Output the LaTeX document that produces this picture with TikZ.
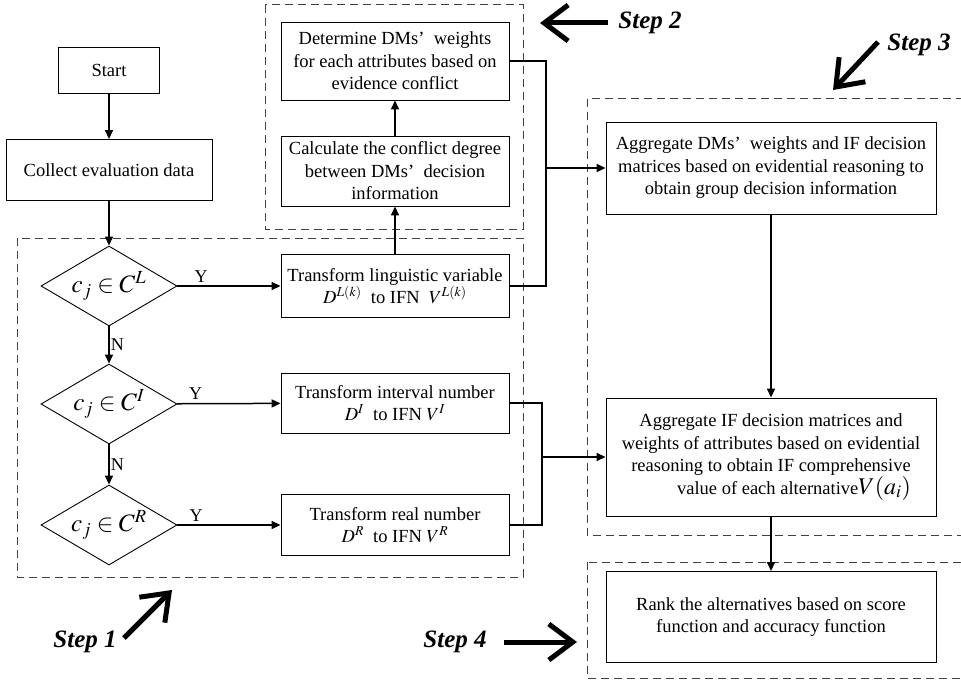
\documentclass[tikz,border=0pt]{standalone}
\usepackage{mathptmx}
\usepackage{fontspec}
\setmainfont{Liberation Serif}
\usetikzlibrary{arrows.meta,shapes.geometric}
\begin{document}
\begin{tikzpicture}[x=1pt,y=-1pt,
  box/.style={draw,line width=0.9pt,align=center,inner sep=0pt,
    font=\fontsize{18.5}{22.5}\selectfont},
  dec/.style={diamond,draw,line width=0.9pt,inner sep=0pt,aspect=1.7,
    minimum width=136pt,minimum height=80pt,font=\fontsize{25}{28}\selectfont},
  conn/.style={line width=1.5pt,-{Triangle[length=9pt,width=8pt]}},
  wire/.style={line width=1.5pt},
  dashbox/.style={draw=black!75,line width=1pt,dash pattern=on 8pt off 5pt},
  lab/.style={font=\fontsize{18}{20}\selectfont,inner sep=1pt},
  steplab/.style={font=\fontsize{25}{28}\selectfont\bfseries\itshape,inner sep=0pt},
  bigarrow/.style={line width=5pt,-{Straight Barb[length=24pt,width=36pt]}}
]
\useasboundingbox (0,0) rectangle (961,682);
\clip (0,0) rectangle (961,682);

% dashed step frames
\draw[dashbox] (17,238) rectangle (523,577);
\draw[dashbox] (265,5) rectangle (523,229);
\draw[dashbox] (587,99) rectangle (970,535);
\draw[dashbox] (587,562) rectangle (970,678);

% nodes
\node[box,minimum width=101pt,minimum height=46pt] (start) at (109,70) {Start};
\node[box,minimum width=206pt,minimum height=61pt] (collect) at (109,170) {Collect evaluation data};

\node[dec] (d1) at (109,286) {$c_j\in C^{L}$};
\node[dec] (d2) at (109,404) {$c_j\in C^{I}$};
\node[dec] (d3) at (109,525) {$c_j\in C^{R}$};

\node[box,minimum width=228pt,minimum height=78pt] (det) at (395,61)
  {Determine DMs’\hspace{0.5em}weights\\for each attributes based on\\evidence conflict};
\node[box,minimum width=228pt,minimum height=70pt] (calc) at (395,171)
  {Calculate the conflict degree\\between DMs’\hspace{0.5em}decision\\information};
\node[box,minimum width=228pt,minimum height=63pt] (tl) at (395,286)
  {Transform linguistic variable\\$D^{L(k)}$\ \ to IFN\ \ $V^{L(k)}$};
\node[box,minimum width=228pt,minimum height=60pt] (ti) at (395,403)
  {Transform interval number\\$D^{I}$\ \ to IFN $V^{I}$};
\node[box,minimum width=228pt,minimum height=61pt] (tr) at (395,525)
  {Transform real number\\$D^{R}$\ \ to IFN $V^{R}$};

\node[box,minimum width=330pt,minimum height=92pt] (agg1) at (771,168)
  {Aggregate DMs’\hspace{0.5em}weights and IF decision\\matrices based on evidential reasoning to\\obtain group decision information};
\node[box,minimum width=330pt,minimum height=118pt] (agg2) at (771,457)
  {Aggregate IF decision matrices and\\weights of attributes based on evidential\\reasoning to obtain IF comprehensive\\\hspace*{46pt}value of each alternative{\fontsize{24}{24}\selectfont$V\!\left(a_i\right)$}};
\node[box,minimum width=330pt,minimum height=91pt] (rank) at (771,617)
  {Rank the alternatives based on score\\function and accuracy function};

% junctions
\coordinate (j1) at (546,168);
\coordinate (j2) at (542,457);

% connectors
\draw[conn] (start) -- (collect);
\draw[conn] (collect) -- (d1);
\draw[conn] (d1) -- node[lab,above,pos=0.23,yshift=2pt]{Y} (tl);
\draw[conn] (d2) -- node[lab,above,pos=0.18,yshift=2pt]{Y} (ti);
\draw[conn] (d3) -- node[lab,above,pos=0.18,yshift=2pt]{Y} (tr);
\draw[conn] (d1) -- node[lab,right,pos=0.5]{N} (d2);
\draw[conn] (d2) -- node[lab,right,pos=0.5]{N} (d3);
\draw[conn] (tl) -- (calc);
\draw[conn] (calc) -- (det);
\draw[wire] (det.east) -| (j1) |- (tl.east);
\draw[conn] (j1) -- (agg1.west);
\draw[wire] (ti.east) -| (j2) |- (tr.east);
\draw[conn] (j2) -- (agg2.west);
\draw[conn] (agg1) -- (agg2);
\draw[conn] (agg2) -- (rank);

% step labels
\node[steplab] (s1) at (85,642) {Step 1};
\node[steplab] (s2) at (650,23) {Step 2};
\node[steplab] (s3) at (919,45) {Step 3};
\node[steplab] (s4) at (455,642) {Step 4};
\coordinate (s1t) at (172,590);
\coordinate (s2t) at (540,23);
\coordinate (s3t) at (833,90);
\coordinate (s4t) at (577,642);
\draw[bigarrow] (124,638) -- (s1t);
\draw[bigarrow] (608,23) -- (s2t);
\draw[bigarrow] (878,42) -- (s3t);
\draw[bigarrow] (504,642) -- (s4t);
\end{tikzpicture}
\end{document}
